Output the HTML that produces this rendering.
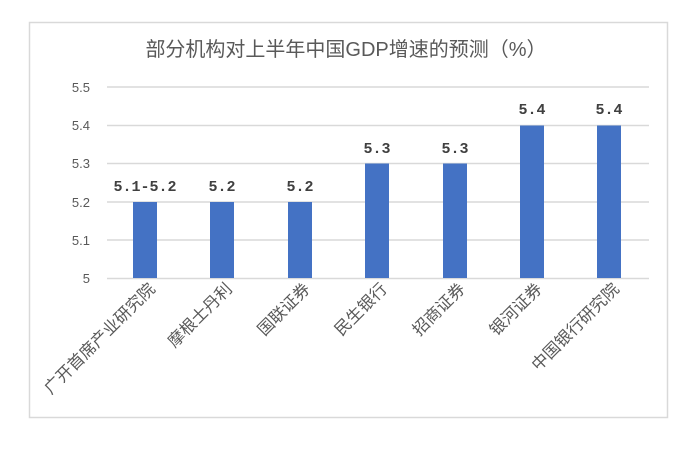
<!DOCTYPE html>
<html><head><meta charset="utf-8"><style>
body{margin:0;background:#fff;}
svg text{font-family:"Liberation Sans","Noto Sans CJK SC",sans-serif;}
</style></head><body>
<svg width="700" height="446" viewBox="0 0 700 446">
<rect x="29.5" y="22.5" width="638" height="395" fill="#fff" stroke="#d9d9d9" stroke-width="1.5"/>
<text x="346" y="56" text-anchor="middle" font-size="20" fill="#595959">部分机构对上半年中国GDP增速的预测（%）</text>
<g stroke="#d9d9d9" stroke-width="1.5">
<line x1="107" y1="87" x2="649" y2="87"/>
<line x1="107" y1="125.5" x2="649" y2="125.5"/>
<line x1="107" y1="163.5" x2="649" y2="163.5"/>
<line x1="107" y1="202" x2="649" y2="202"/>
<line x1="107" y1="240" x2="649" y2="240"/>
<line x1="107" y1="278.5" x2="649" y2="278.5"/>
</g>
<g font-size="13" fill="#595959" text-anchor="end">
<text x="90" y="92">5.5</text><text x="90" y="130">5.4</text><text x="90" y="168">5.3</text>
<text x="90" y="207">5.2</text><text x="90" y="245">5.1</text><text x="90" y="283">5</text>
</g>
<g fill="#4472c4">
<rect x="133" y="202" width="24" height="76"/>
<rect x="210" y="202" width="24" height="76"/>
<rect x="288" y="202" width="24" height="76"/>
<rect x="365" y="163.5" width="24" height="114.5"/>
<rect x="443" y="163.5" width="24" height="114.5"/>
<rect x="520" y="125.5" width="24" height="152.5"/>
<rect x="597" y="125.5" width="24" height="152.5"/>
</g>
<g font-size="15" fill="#404040" text-anchor="middle" font-weight="bold">
<text x="145" y="191" style="font-family:'Liberation Mono',monospace">5.1-5.2</text>
<text x="222" y="191" style="font-family:'Liberation Mono',monospace">5.2</text>
<text x="300" y="191" style="font-family:'Liberation Mono',monospace">5.2</text>
<text x="377" y="153" style="font-family:'Liberation Mono',monospace">5.3</text>
<text x="455" y="153" style="font-family:'Liberation Mono',monospace">5.3</text>
<text x="532" y="114" style="font-family:'Liberation Mono',monospace">5.4</text>
<text x="609" y="114" style="font-family:'Liberation Mono',monospace">5.4</text>
</g>
<g font-size="16.5" fill="#595959" text-anchor="end">
<text transform="translate(156,290) rotate(-45)">广开首席产业研究院</text>
<text transform="translate(233,290) rotate(-45)">摩根士丹利</text>
<text transform="translate(311,290) rotate(-45)">国联证券</text>
<text transform="translate(388,290) rotate(-45)">民生银行</text>
<text transform="translate(466,290) rotate(-45)">招商证券</text>
<text transform="translate(543,290) rotate(-45)">银河证券</text>
<text transform="translate(620,290) rotate(-45)">中国银行研究院</text>
</g>
</svg>
</body></html>
